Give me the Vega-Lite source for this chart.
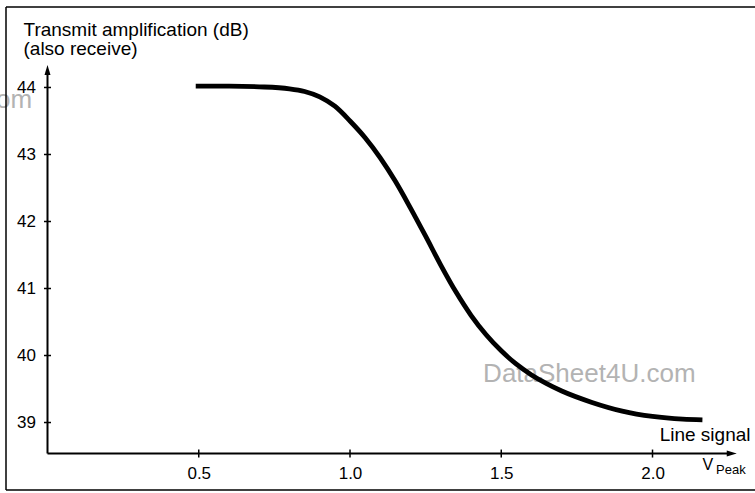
{
  "$schema": "https://vega.github.io/schema/vega-lite/v6.json",
  "width": 749,
  "height": 483,
  "autosize": {"type": "none"},
  "padding": {"left": 6, "top": 7, "right": 0, "bottom": 3},
  "background": "white",
  "config": {"view": {"stroke": null}, "font": "Liberation Sans"},
  "data": {"values": [{"one": 1}]},
  "datasets": {
    "curve": [
      {"v": 0.49, "db": 44.02}, {"v": 0.6, "db": 44.02}, {"v": 0.7, "db": 44.01},
      {"v": 0.8, "db": 43.98}, {"v": 0.85, "db": 43.94}, {"v": 0.9, "db": 43.86},
      {"v": 0.95, "db": 43.72}, {"v": 1.0, "db": 43.5}, {"v": 1.05, "db": 43.25},
      {"v": 1.1, "db": 42.95}, {"v": 1.15, "db": 42.6}, {"v": 1.2, "db": 42.2},
      {"v": 1.25, "db": 41.78}, {"v": 1.3, "db": 41.35}, {"v": 1.35, "db": 40.95},
      {"v": 1.4, "db": 40.6}, {"v": 1.45, "db": 40.31}, {"v": 1.5, "db": 40.07},
      {"v": 1.55, "db": 39.87}, {"v": 1.6, "db": 39.71}, {"v": 1.65, "db": 39.58},
      {"v": 1.7, "db": 39.47}, {"v": 1.8, "db": 39.3}, {"v": 1.9, "db": 39.17},
      {"v": 2.0, "db": 39.09}, {"v": 2.1, "db": 39.05}, {"v": 2.165, "db": 39.04}
    ],
    "xticks": [{"v": 0.5}, {"v": 1.0}, {"v": 1.5}, {"v": 2.0}],
    "yticks": [{"db": 39}, {"db": 40}, {"db": 41}, {"db": 42}, {"db": 43}, {"db": 44}]
  },
  "layer": [
    {
      "mark": {"type": "text", "align": "left", "baseline": "alphabetic", "fontSize": 26, "color": "#b3b3b3"},
      "encoding": {
        "x": {"datum": 1.44, "type": "quantitative"},
        "y": {"datum": 39.604, "type": "quantitative"},
        "text": {"value": "DataSheet4U.com"}
      }
    },
    {
      "mark": {"type": "text", "align": "right", "baseline": "alphabetic", "fontSize": 26, "color": "#b3b3b3"},
      "encoding": {
        "x": {"datum": -0.051, "type": "quantitative"},
        "y": {"datum": 43.694, "type": "quantitative"},
        "text": {"value": "DataSheet4U.com"}
      }
    },
    {
      "data": {"name": "curve"},
      "mark": {"type": "line", "color": "black", "strokeWidth": 4.8, "interpolate": "monotone", "strokeCap": "butt"},
      "encoding": {
        "x": {
          "field": "v", "type": "quantitative",
          "scale": {"domain": [-0.1372, 2.3388], "nice": false, "zero": false},
          "axis": {
            "values": [0.5, 1.0, 1.5, 2.0], "format": ".1f", "domain": false, "ticks": false, "tickSize": 0,
            "grid": false, "offset": -36.5, "labelPadding": 12, "labelFontSize": 17, "labelColor": "black",
            "title": "Line signal", "titleFontSize": 19, "titleFontWeight": "normal", "titleColor": "black",
            "titleAlign": "right", "titleBaseline": "alphabetic", "titleX": 744, "titleY": -13.5, "titleAnchor": null
          }
        },
        "y": {
          "field": "db", "type": "quantitative",
          "scale": {"domain": [37.993, 45.201], "nice": false, "zero": false},
          "axis": {
            "values": [39, 40, 41, 42, 43, 44], "format": "d", "domain": false, "ticks": false, "tickSize": 0, "grid": false,
            "offset": -41.5, "labelPadding": 12, "labelFontSize": 17, "labelColor": "black",
            "title": ["Transmit amplification (dB)", "(also receive)"], "titleAngle": 0, "titleAlign": "left",
            "titleBaseline": "alphabetic", "titleX": -24.5, "titleY": 28, "titleFontSize": 19,
            "titleFontWeight": "normal", "titleColor": "black", "titleLineHeight": 19, "titleAnchor": null
          }
        }
      }
    },
    {
      "mark": {"type": "rule", "color": "black", "strokeWidth": 2},
      "encoding": {
        "x": {"datum": 0, "type": "quantitative"},
        "x2": {"datum": 2.262},
        "y": {"datum": 38.537, "type": "quantitative"}
      }
    },
    {
      "mark": {"type": "rule", "color": "black", "strokeWidth": 2},
      "encoding": {
        "x": {"datum": 0, "type": "quantitative"},
        "y": {"datum": 38.537, "type": "quantitative"},
        "y2": {"datum": 44.26}
      }
    },
    {
      "mark": {"type": "point", "shape": "M0,-1L0.6,1L-0.6,1Z", "filled": true, "color": "black", "size": 100, "opacity": 1},
      "encoding": {
        "x": {"datum": 0, "type": "quantitative"},
        "y": {"datum": 44.26, "type": "quantitative"}
      }
    },
    {
      "mark": {"type": "point", "shape": "M1,0L-1,0.6L-1,-0.6Z", "filled": true, "color": "black", "size": 100, "opacity": 1},
      "encoding": {
        "x": {"datum": 2.262, "type": "quantitative"},
        "y": {"datum": 38.537, "type": "quantitative"}
      }
    },
    {
      "data": {"name": "xticks"},
      "mark": {"type": "point", "shape": "M0,-1L0,1", "filled": false, "stroke": "black", "strokeWidth": 1.5, "size": 64, "opacity": 1},
      "encoding": {
        "x": {"field": "v", "type": "quantitative"},
        "y": {"datum": 38.537, "type": "quantitative"}
      }
    },
    {
      "data": {"name": "yticks"},
      "mark": {"type": "point", "shape": "M-1,0L1,0", "filled": false, "stroke": "black", "strokeWidth": 1.5, "size": 49, "opacity": 1},
      "encoding": {
        "x": {"datum": 0, "type": "quantitative"},
        "y": {"field": "db", "type": "quantitative"}
      }
    },
    {
      "mark": {"type": "text", "align": "center", "baseline": "alphabetic", "fontSize": 16, "color": "black"},
      "encoding": {
        "x": {"datum": 2.183, "type": "quantitative"},
        "y": {"datum": 38.291, "type": "quantitative"},
        "text": {"value": "V"}
      }
    },
    {
      "mark": {"type": "text", "align": "left", "baseline": "alphabetic", "fontSize": 13, "color": "black"},
      "encoding": {
        "x": {"datum": 2.21, "type": "quantitative"},
        "y": {"datum": 38.231, "type": "quantitative"},
        "text": {"value": "Peak"}
      }
    },
    {
      "mark": {"type": "rule", "color": "black", "strokeWidth": 1.5},
      "encoding": {"y": {"datum": 45.201, "type": "quantitative"}}
    },
    {
      "mark": {"type": "rule", "color": "black", "strokeWidth": 1.5},
      "encoding": {"x": {"datum": -0.1372, "type": "quantitative"}}
    },
    {
      "mark": {"type": "rule", "color": "black", "strokeWidth": 1.5},
      "encoding": {"y": {"datum": 37.993, "type": "quantitative"}}
    }
  ]
}
